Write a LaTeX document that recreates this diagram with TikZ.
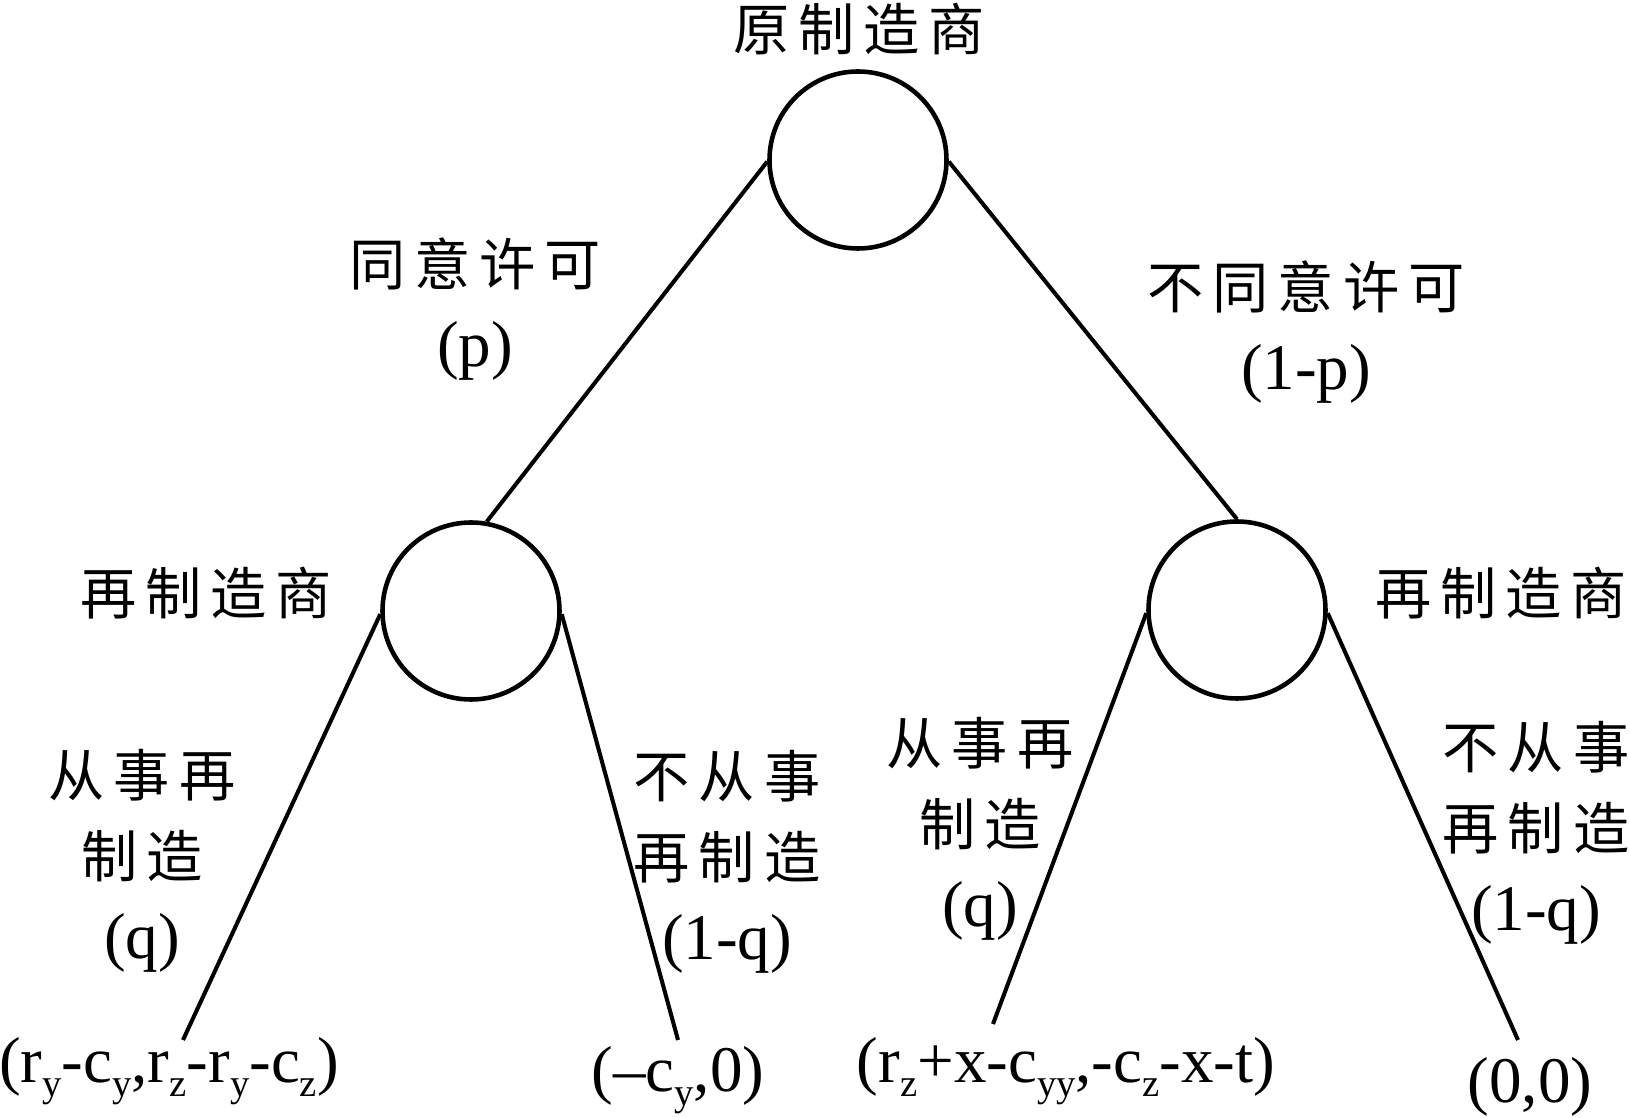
\documentclass[tikz,border=0pt]{standalone}
\usepackage{fontspec}
\setmainfont{Liberation Serif}
\newfontfamily\cjk{Noto Sans CJK SC}[LetterSpace=16]
\usetikzlibrary{positioning}
\newcommand{\zhtxt}[1]{{\fontsize{16}{23}\cjk #1}}
\newcommand{\lowidx}[1]{\raisebox{-0.22em}{\fontsize{11}{11}\selectfont #1}}
\tikzstyle{player}=[draw, circle, line width=1.3pt, minimum size=17.7mm, inner sep=0pt]
\tikzstyle{branch}=[line width=1.15pt]
\tikzstyle{lbl}=[align=center, inner sep=0pt, font=\fontsize{18.5}{23}\selectfont]

\begin{document}
\begin{tikzpicture}
		\useasboundingbox (0,0) rectangle (16.30,-11.18);

		% players
		\node[player] (root) at (8.58,-1.60) {};
		\node[player] (lc) at (4.71,-6.11) {};
		\node[player] (rc) at (12.37,-6.10) {};

		\node[lbl] (rootname) at (8.59,-0.29) {\zhtxt{原制造商}};
		\node[lbl] (lcname) at (2.06,-5.93) {\zhtxt{再制造商}};
		\node[lbl] (rcname) at (15.01,-5.93) {\zhtxt{再制造商}};

		% first move
		\draw[branch] (root.181) -- (lc.80);
		\draw[branch] (root.-1) -- (rc.north);
		\node[lbl] (agree) at (4.75,-3.09) {\zhtxt{同意许可}\\(p)};
		\node[lbl] (refuse) at (13.06,-3.32) {\zhtxt{不同意许可}\\(1-p)};

		% ends of the tree
		\coordinate (e1) at (1.83,-10.40);
		\coordinate (e2) at (6.78,-10.40);
		\coordinate (e3) at (9.93,-10.24);
		\coordinate (e4) at (15.18,-10.40);

		\draw[branch] (lc.182) -- (e1);
		\draw[branch] (lc.-2) -- (e2);
		\draw[branch] (rc.182) -- (e3);
		\draw[branch] (rc.-2) -- (e4);

		\node[lbl] (m1) at (1.42,-8.61) {\zhtxt{从事再}\\\zhtxt{制造}\\(q)};
		\node[lbl] (m2) at (7.27,-8.62) {\zhtxt{不从事}\\\zhtxt{再制造}\\(1-q)};
		\node[lbl] (m3) at (9.80,-8.29) {\zhtxt{从事再}\\\zhtxt{制造}\\(q)};
		\node[lbl] (m4) at (15.36,-8.33) {\zhtxt{不从事}\\\zhtxt{再制造}\\(1-q)};

		% payoffs
		\node[lbl] (p1) at (1.69,-10.71) {(r\lowidx{y}-c\lowidx{y},r\lowidx{z}-r\lowidx{y}-c\lowidx{z})};
		\node[lbl] (p2) at (6.78,-10.80) {(–c\lowidx{y},0)};
		\node[lbl] (p3) at (10.66,-10.71) {(r\lowidx{z}+x-c\lowidx{yy},-c\lowidx{z}-x-t)};
		\node[lbl] (p4) at (15.30,-10.87) {(0,0)};
	\end{tikzpicture}
\end{document}
